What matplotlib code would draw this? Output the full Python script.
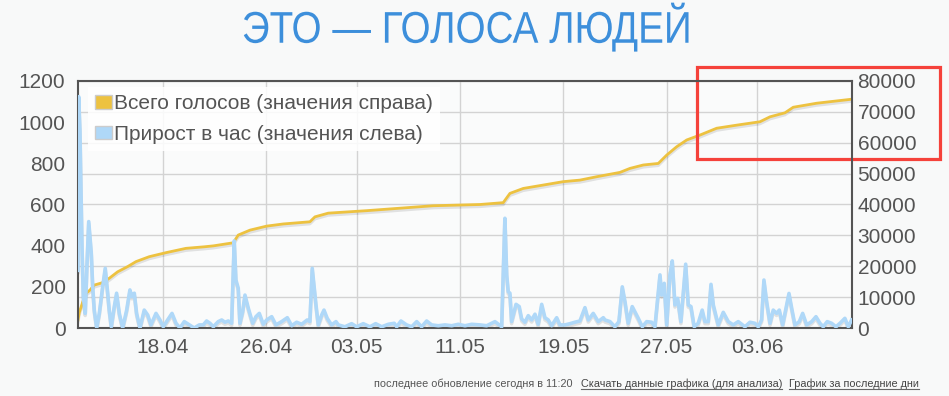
import datetime as dt
import numpy as np
import matplotlib
matplotlib.use("Agg")
import matplotlib.pyplot as plt
import matplotlib.dates as mdates
from matplotlib.patches import Patch, Rectangle
from matplotlib.lines import Line2D
from matplotlib.patheffects import AbstractPathEffect
from matplotlib.transforms import Affine2D, ScaledTranslation

# ---------------- data ----------------
title = "ЭТО — ГОЛОСА ЛЮДЕЙ"
legend_labels = ["Всего голосов (значения справа)", "Прирост в час (значения слева)"]
footer_plain = "последнее обновление сегодня в 11:20"
footer_links = ["Скачать данные графика (для анализа)", "График за последние дни"]

start_date = dt.datetime(2013, 4, 11)
x_range_days = [0.42, 60.36]
xtick_labels = ["18.04", "26.04", "03.05", "11.05", "19.05", "27.05", "03.06"]
left_ticks = [0, 200, 400, 600, 800, 1000, 1200]
right_ticks = [0, 10000, 20000, 30000, 40000, 50000, 60000, 70000, 80000]

# total votes (right axis); time in days since 11.04 00:00
total_t = [0.42, 0.52, 0.83, 1.04, 1.35, 1.68, 2.33, 2.84, 3.49, 4.27, 4.91, 5.94,
           7.23, 8.78, 10.20, 10.90, 12.44, 12.83, 13.74, 15.03, 16.32, 18.38, 18.77,
           19.80, 22.77, 25.35, 27.93, 31.55, 33.35, 33.87, 34.90, 36.45, 38.00,
           39.29, 40.59, 42.39, 43.17, 44.20, 45.36, 46.01, 46.78, 47.56, 48.59,
           49.88, 51.43, 53.23, 54.01, 55.17, 55.81, 57.62, 60.33]
total_v = [2600, 5000, 9000, 11200, 12300, 13900, 14700, 16100, 18200, 19900, 21500, 23100,
           24400, 25800, 26300, 26600, 27600, 30100, 31700, 33000, 33700, 34400, 36000,
           37200, 38000, 38800, 39600, 40000, 40600, 43600, 45200, 46300, 47400,
           47900, 49000, 50400, 51700, 52800, 53300, 56000, 58700, 60900, 62500,
           64700, 65700, 66800, 68400, 69700, 71500, 72800, 74100]

# hourly growth (left axis)
rate_t = [0.42, 0.47, 0.57, 0.65, 0.73, 0.83, 0.98, 1.11, 1.25, 1.37, 1.45, 1.56, 1.68,
          1.87, 2.07, 2.33, 2.53, 2.72, 2.84, 3.00, 3.23, 3.41, 3.62, 3.88, 4.19, 4.44,
          4.60, 4.78, 4.96, 5.22, 5.55, 5.82, 6.07, 6.46, 6.77, 7.02, 7.36, 7.70, 8.01,
          8.32, 8.65, 9.04, 9.42, 9.81, 10.12, 10.38, 10.64, 10.90, 11.28, 11.55, 11.80,
          12.06, 12.32, 12.52, 12.65, 12.83, 12.96, 13.17, 13.35, 13.61, 13.95, 14.20,
          14.46, 14.77, 15.03, 15.42, 15.75, 16.19, 16.63, 16.97, 17.35, 17.74, 18.17,
          18.38, 18.56, 18.69, 18.85, 19.03, 19.29, 19.47, 19.72, 20.06, 20.40, 20.58,
          21.09, 21.61, 22.00, 22.51, 23.03, 23.47, 23.94, 24.45, 24.91, 25.10, 25.43,
          25.87, 26.26, 26.65, 27.03, 27.42, 27.81, 28.32, 28.84, 29.36, 29.87, 30.39,
          30.91, 31.55, 32.07, 32.71, 33.23, 33.48, 33.62, 33.74, 33.87, 34.00, 34.34,
          34.59, 34.78, 35.03, 35.29, 35.55, 35.81, 36.06, 36.33, 36.58, 36.84, 37.10,
          37.49, 37.74, 38.13, 38.52, 38.90, 39.29, 39.68, 39.94, 40.32, 40.71, 41.10,
          41.23, 41.62, 42.00, 42.31, 42.57, 42.78, 43.03, 43.34, 43.61, 43.81, 44.12,
          44.46, 44.85, 45.10, 45.49, 45.62, 45.82, 46.01, 46.26, 46.44, 46.65, 46.86,
          47.11, 47.48, 47.68, 47.89, 48.14, 48.45, 48.76, 48.97, 49.23, 49.44, 49.62,
          50.00, 50.39, 50.78, 51.16, 51.55, 52.07, 52.46, 52.84, 53.10, 53.36, 53.54,
          53.75, 54.01, 54.26, 54.52, 54.73, 54.99, 55.30, 55.48, 55.69, 55.94, 56.28,
          56.54, 56.85, 57.24, 57.57, 57.88, 58.13, 58.44, 58.78, 59.12, 59.43, 59.81,
          60.07, 60.33]
rate_v = [280, 1124, 962, 670, 395, 152, 71, 298, 517, 428, 363, 200, 87,
          0, 71, 200, 290, 169, 87, 6, 104, 169, 71, 0, 87, 185,
          152, 169, 71, 0, 87, 63, 15, 71, 39, 6, 39, 71, 23,
          0, 31, 15, 0, 15, 15, 34, 23, 6, 31, 39, 28,
          34, 23, 423, 233, 193, 23, 79, 160, 96, 23, 55,
          71, 18, 39, 55, 15, 31, 50, 11, 28, 18, 39,
          31, 290, 209, 112, 15, 63, 87, 47, 15, 31, 15,
          6, 21, 6, 21, 6, 21, 6, 18, 23, 6, 34,
          15, 6, 31, 6, 34, 15, 11, 15, 11, 18, 11,
          18, 15, 11, 31, 6, 533, 258, 176, 169, 31, 115,
          104, 44, 28, 60, 39, 67, 18, 115, 50, 39, 11,
          50, 15, 15, 21, 28, 34, 99, 39, 71, 31, 50,
          39, 31, 6, 31, 200, 128, 23, 104, 71, 47, 6,
          31, 28, 6, 258, 160, 217, 15, 258, 326, 112, 144,
          31, 310, 112, 104, 6, 23, 87, 31, 31, 212, 112,
          15, 76, 31, 15, 31, 6, 28, 23, 6, 39, 233,
          128, 23, 87, 71, 87, 15, 112, 168, 96, 15, 31,
          71, 15, 31, 55, 23, 6, 31, 23, 6, 23, 47,
          6, 39]

# ---------------- styling helpers ----------------
ORANGE = "#edc240"
BLUE = "#afd8f8"
TEXT = "#545454"
BG = "#f8f9f9"
FONT = ["Liberation Sans", "DejaVu Sans"]


class XScale(AbstractPathEffect):
    """Horizontally condense a text path around a given display x."""
    def __init__(self, sx, cx):
        super().__init__()
        self.sx = sx
        self.cx = cx

    def draw_path(self, renderer, gc, tpath, affine, rgbFace=None):
        aff = affine + Affine2D().translate(-self.cx, 0).scale(self.sx, 1).translate(self.cx, 0)
        renderer.draw_path(gc, tpath, aff, rgbFace)


plt.rcParams["font.family"] = FONT

W, H, DPI = 949, 396, 100
fig = plt.figure(figsize=(W / DPI, H / DPI), dpi=DPI, facecolor=BG)

x0, x1, ytop, ybot = 78, 852, 81, 328
ax = fig.add_axes([x0 / W, (H - ybot) / H, (x1 - x0) / W, (ybot - ytop) / H])
ax2 = ax.twinx()
ax.set_zorder(ax2.get_zorder() + 1)
ax.patch.set_visible(False)
ax2.patch.set_visible(True)
ax2.patch.set_facecolor("#fafbfb")

base = mdates.date2num(start_date)
tt_total = base + np.array(total_t)
tt_rate = base + np.array(rate_t)
tick_dates = [mdates.date2num(dt.datetime.strptime(l + ".2013", "%d.%m.%Y")) for l in xtick_labels]

# grid (drawn on the bottom axes so the series lie above it)
for d in tick_dates:
    ax2.axvline(d, color="#d3d3d3", lw=1, zorder=0.5)
ax2.set_yticks(right_ticks)
ax2.grid(axis="y", color="#d3d3d3", lw=1)
ax2.set_axisbelow(True)

shadow = ScaledTranslation(0, -1.5 / 72, fig.dpi_scale_trans)

# orange total line (right scale)
ax2.plot(tt_total, total_v, color="black", alpha=0.10, lw=2.2,
         transform=ax2.transData + shadow, solid_joinstyle="round")
ax2.plot(tt_total, total_v, color=ORANGE, lw=2.0, solid_joinstyle="round", zorder=3)

# blue hourly line (left scale)
ax.plot(tt_rate, rate_v, color="black", alpha=0.10, lw=2.6,
        transform=ax.transData + shadow, solid_joinstyle="round")
ax.plot(tt_rate, rate_v, color=BLUE, lw=2.6, solid_joinstyle="round", zorder=3)

ax.set_xlim(base + x_range_days[0], base + x_range_days[1])
ax.set_ylim(0, 1200)
ax2.set_ylim(0, 80000)
ax.set_xticks(tick_dates)
ax.set_xticklabels(xtick_labels)
ax.set_yticks(left_ticks)
ax.set_yticklabels([str(v) for v in left_ticks])
ax2.set_yticklabels([str(v) for v in right_ticks])

ax.tick_params(axis="x", length=0, pad=7, labelsize=15, labelcolor=TEXT)
ax.tick_params(axis="y", length=0, pad=9, labelsize=15, labelcolor=TEXT)
ax2.tick_params(axis="y", length=0, pad=4, labelsize=15, labelcolor=TEXT)

for s in ax.spines.values():
    s.set_color(TEXT)
    s.set_linewidth(1.5)
for s in ax2.spines.values():
    s.set_visible(False)

# legend
handles = [Patch(facecolor=ORANGE, edgecolor="#cccccc", lw=1),
           Patch(facecolor=BLUE, edgecolor="#cccccc", lw=1)]
leg = ax.legend(handles, legend_labels, loc="upper left",
                bbox_to_anchor=((88 - x0) / (x1 - x0), (ybot - 87) / (ybot - ytop)),
                borderaxespad=0, fontsize=15, handlelength=0.8, handleheight=0.6,
                handletextpad=0.08, labelspacing=0.55, borderpad=0.35,
                frameon=True, fancybox=False, labelcolor=TEXT)
leg.get_frame().set_facecolor("white")
leg.get_frame().set_alpha(0.85)
leg.get_frame().set_edgecolor("none")

# title (condensed)
tcx = 467
fig.text(tcx / W, 1 - 27 / H, title, ha="center", va="center", fontsize=32,
         color="#3d8fdb", path_effects=[XScale(0.87, tcx)])

# red highlight box
fig.add_artist(Rectangle((697 / W, (H - 159) / H), (940 - 697) / W, (159 - 67) / H,
                         transform=fig.transFigure, fill=False, edgecolor="#f5423b", lw=2.3))

# footer
fy = (H - 387) / H
fig.text(374 / W, fy, footer_plain, fontsize=7.8, color="#555555", va="baseline")
renderer = fig.canvas.get_renderer()
for xpos, txt in zip([581, 789], footer_links):
    t = fig.text(xpos / W, fy, txt, fontsize=7.8, color="#444444", va="baseline")
    bb = t.get_window_extent(renderer)
    uy = (H - 388.5) / H
    fig.add_artist(Line2D([bb.x0 / W, bb.x1 / W], [uy, uy], transform=fig.transFigure,
                          color="#666666", lw=0.8))

fig.savefig("out.png", dpi=DPI, facecolor=BG)
